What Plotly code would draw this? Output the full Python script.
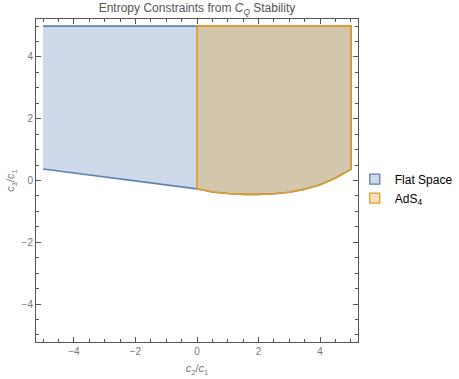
import plotly.graph_objects as go

# boundary
top_y = 5.0
flat_x = [-5.0, 0.0]
flat_lower = [0.375, -0.27]
ads_x = [0.0, 0.5, 1.0, 1.5, 2.0, 2.5, 3.0, 3.5, 4.0, 4.5, 5.0]
ads_lower = [-0.27, -0.37, -0.42, -0.45, -0.45, -0.43, -0.38, -0.28, -0.14, 0.08, 0.36]

blue = "#5e81b5"
orange = "#e19c24"
gray = "#555555"
blue_fill = "rgba(94,129,181,0.3)"
orange_fill = "rgba(225,156,36,0.3)"

# flat space region: wedge on the left, plus the same curve on the right
fx = [flat_x[0], ads_x[-1]] + ads_x[::-1] + [flat_x[0]]
fy = [top_y, top_y] + ads_lower[::-1] + [flat_lower[0]]
ax = [ads_x[0], ads_x[-1]] + ads_x[::-1]
ay = [top_y, top_y] + ads_lower[::-1]

fig = go.Figure()
fig.add_trace(go.Scatter(x=fx, y=fy, fill="toself", mode="lines", fillcolor=blue_fill,
                         line=dict(color=blue, width=1.6), showlegend=False, hoverinfo="skip"))
fig.add_trace(go.Scatter(x=ax + [ax[0]], y=ay + [ay[0]], fill="toself", mode="lines",
                         fillcolor=orange_fill, line=dict(color=orange, width=1.6),
                         showlegend=False, hoverinfo="skip"))

# square swatches for the legend
for name, col, fillc in [("Flat Space", blue, blue_fill), ("AdS<sub>4</sub>", orange, orange_fill)]:
    fig.add_trace(go.Scatter(x=[None], y=[None], mode="markers", name=name,
                             marker=dict(symbol="square", size=10, color=fillc,
                                         line=dict(color=col, width=1.3))))

axis_style = dict(range=[-5.23, 5.23], dtick=2, showgrid=False, zeroline=False,
                  showline=True, linecolor=gray, linewidth=1, mirror="ticks",
                  ticks="inside", ticklen=5, tickcolor=gray, automargin=False,
                  minor=dict(ticks="inside", dtick=0.5, ticklen=3, tickcolor=gray),
                  tickfont=dict(size=10, color="#777777"))

fig.update_xaxes(**axis_style, title=dict(text="<i>c</i><sub>2</sub>/<i>c</i><sub>1</sub>",
                                          font=dict(size=11, color="#777777"), standoff=8))
fig.update_yaxes(**axis_style, title=dict(text="<i>c</i><sub>3</sub>/<i>c</i><sub>1</sub>",
                                          font=dict(size=11, color="#777777"), standoff=4))

fig.update_layout(
    width=459, height=379,
    margin=dict(l=36, r=101, t=19, b=37, autoexpand=False),
    paper_bgcolor="white", plot_bgcolor="white",
    font=dict(family="Liberation Sans, Arial, sans-serif"),
    title=dict(text="Entropy Constraints from <i>C</i><sub><i>Q</i></sub> Stability",
               x=0.5, xref="paper", y=0.99, yanchor="top",
               font=dict(size=12, color="#555555")),
    legend=dict(x=0.99, y=0.475, xanchor="left", yanchor="middle",
                font=dict(size=12, color="black"), itemwidth=30, tracegroupgap=2,
                bgcolor="rgba(0,0,0,0)"),
)

fig.write_html("out.html", config={"displayModeBar": False},
               post_script="document.body.style.margin='0';")
